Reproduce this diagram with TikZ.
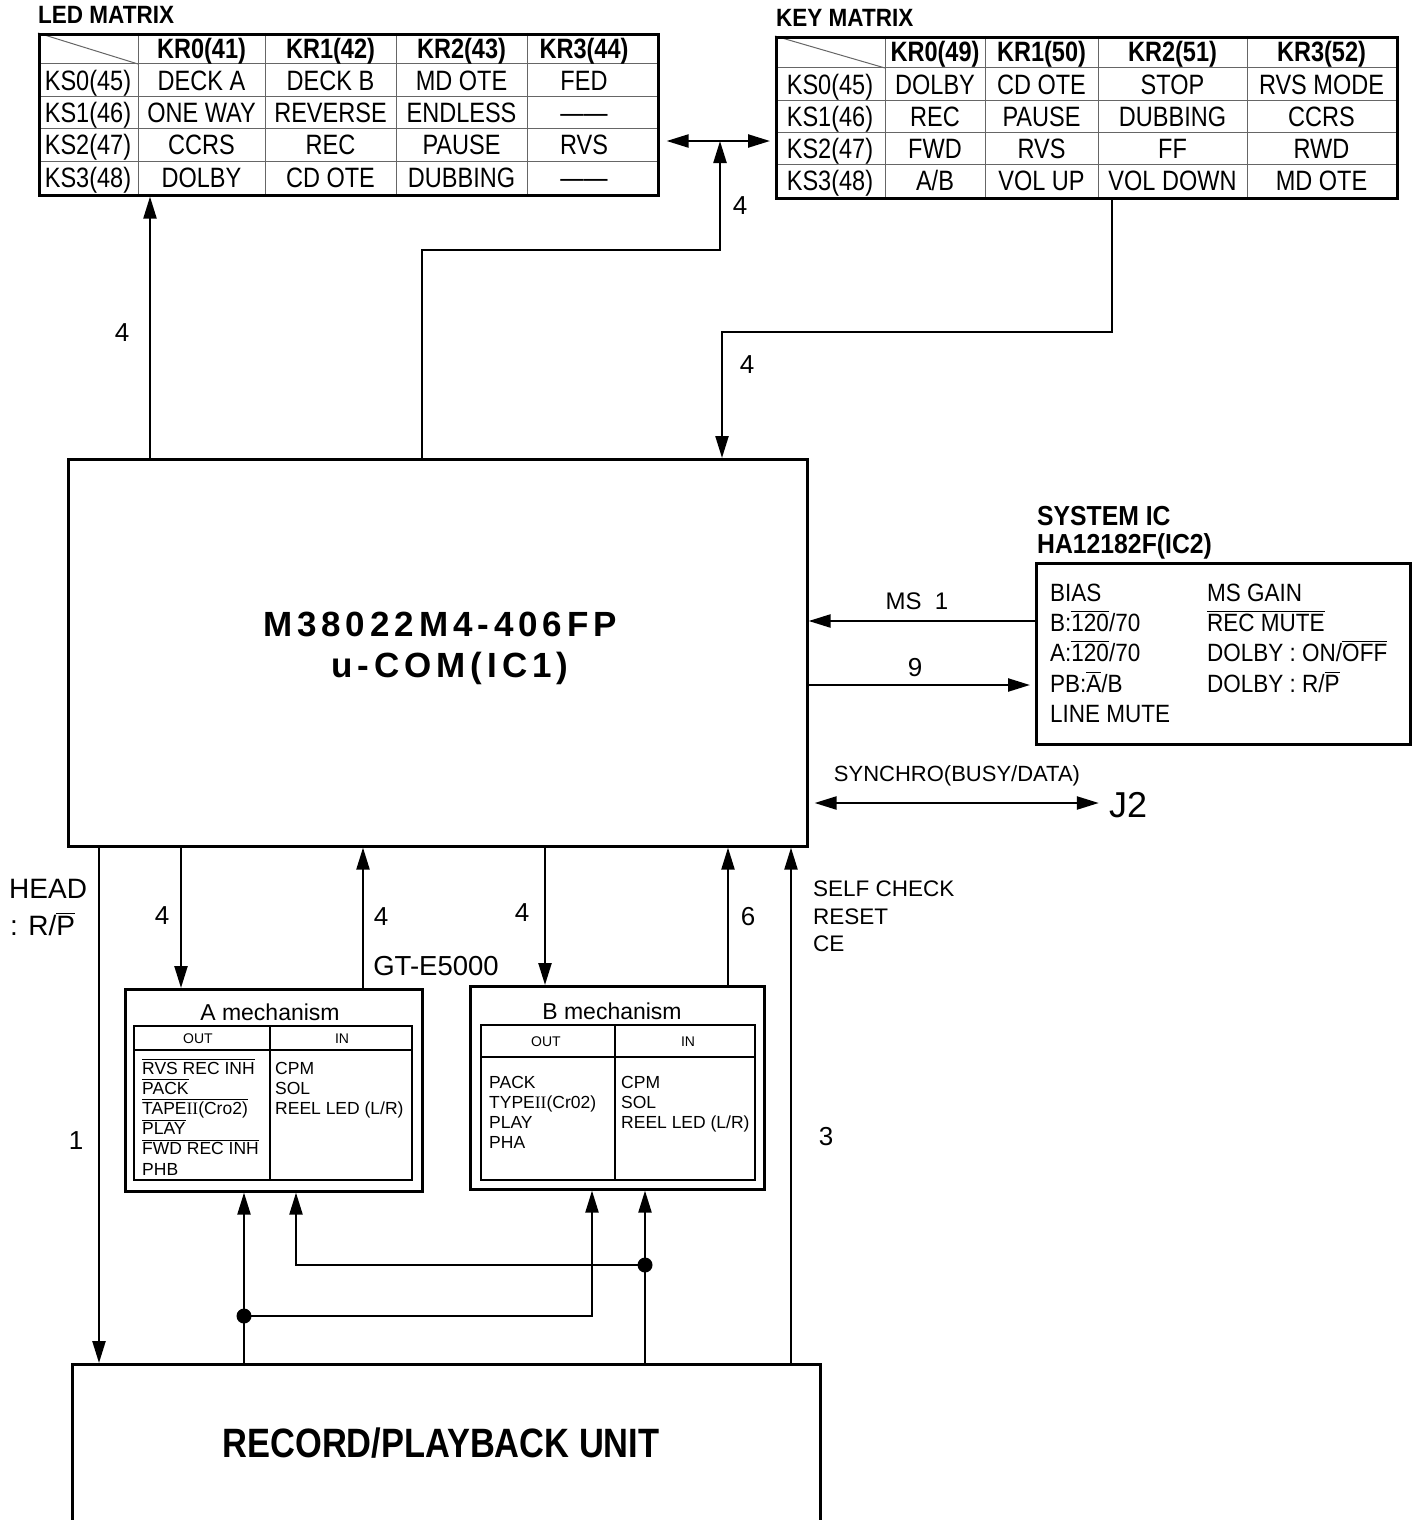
\documentclass[tikz,border=0pt]{standalone}
\usepackage{fontspec}
\setmainfont{Liberation Sans}
\newfontfamily\condf{Liberation Sans}[FakeStretch=0.84]
\newfontfamily\semif{Liberation Sans}[FakeStretch=0.9]
\newfontfamily\widef{Liberation Sans}[LetterSpace=14]
\newfontfamily\romf{Liberation Serif}
\usetikzlibrary{arrows.meta}
\newcommand\fsz[2]{\fontsize{#1}{#2}\selectfont}
\newcommand\ovl[1]{\vbox{\hrule height 1.1pt\kern 1.8pt\hbox{#1}}}
\tikzset{
 thickbox/.style={draw, line width=2.6pt, inner sep=0pt, anchor=north west},
 wire/.style={line width=2.3pt},
 arr/.style={wire, -{Triangle[length=22pt,width=13pt]}},
 darr/.style={wire, {Triangle[length=22pt,width=13pt]}-{Triangle[length=22pt,width=13pt]}},
 gline/.style={line width=1pt, draw=black!60},
 tcell/.style={inner sep=0pt, font=\condf\fsz{28}{32}, text height=20pt, text depth=0pt},
 thead/.style={tcell, font=\condf\bfseries\fsz{28}{32}},
 num/.style={inner sep=0pt, font=\fsz{26}{30}},
 lab/.style={inner sep=0pt, anchor=base west},
 mtext/.style={lab, font=\fsz{17.5}{20}},
 stext/.style={lab, font=\semif\fsz{25}{30}},
 dot/.style={circle, fill, inner sep=0pt, minimum size=15pt},
}
\newcommand\ledrow[6]{%
 \node[tcell] (l#1a) at (88,#2) {#3};
 \node[tcell] (l#1b) at (201.5,#2) {#4};
 \node[tcell] (l#1c) at (330.5,#2) {#5};
 \node[tcell] (l#1d) at (461.5,#2) {#6};}
\newcommand\keyrow[6]{%
 \node[tcell] (k#1a) at (830,#2) {#3};
 \node[tcell] (k#1b) at (935,#2) {#4};
 \node[tcell] (k#1c) at (1041.5,#2) {#5};
 \node[tcell] (k#1d) at (1172.5,#2) {#6};}
\begin{document}
\begin{tikzpicture}[x=1pt,y=-1pt]
\path[use as bounding box] (0,0) rectangle (1420,1520);
\fill[white] (0,0) rectangle (1420,1520);
% ---------------- LED MATRIX
\node[lab, font=\semif\bfseries\fsz{25}{30}] (ledt) at (38,24) {LED MATRIX};
\foreach \x in {138,265,396,527} \draw[gline] (\x,33) -- (\x,194);
\foreach \y in {64,96,128,161} \draw[gline] (38,\y) -- (657,\y);
\draw[gline] (38,33) -- (138,64);
\node[thickbox, minimum width=619pt, minimum height=161pt] (led) at (38,33) {};
\node[thead] (lh1) at (201.5,48.5) {KR0(41)};
\node[thead] (lh2) at (330.5,48.5) {KR1(42)};
\node[thead] (lh3) at (461.5,48.5) {KR2(43)};
\node[thead] (lh4) at (584,48.5) {KR3(44)};
\ledrow{1}{80}{KS0(45)}{DECK A}{DECK B}{MD OTE}
\node[tcell] (l1e) at (584,80) {FED};
\ledrow{2}{112}{KS1(46)}{ONE WAY}{REVERSE}{ENDLESS}
\node[tcell] (l2e) at (584,112) {——};
\ledrow{3}{144.5}{KS2(47)}{CCRS}{REC}{PAUSE}
\node[tcell] (l3e) at (584,144.5) {RVS};
\ledrow{4}{177.5}{KS3(48)}{DOLBY}{CD OTE}{DUBBING}
\node[tcell] (l4e) at (584,177.5) {——};
% ---------------- KEY MATRIX
\node[lab, font=\semif\bfseries\fsz{25}{30}] (keyt) at (776,27) {KEY MATRIX};
\foreach \x in {885,985,1098,1247} \draw[gline] (\x,36) -- (\x,197);
\foreach \y in {68,100,132,164} \draw[gline] (775,\y) -- (1396,\y);
\draw[gline] (775,36) -- (885,68);
\node[thickbox, minimum width=621pt, minimum height=161pt] (key) at (775,36) {};
\node[thead] (kh1) at (935,52) {KR0(49)};
\node[thead] (kh2) at (1041.5,52) {KR1(50)};
\node[thead] (kh3) at (1172.5,52) {KR2(51)};
\node[thead] (kh4) at (1321.5,52) {KR3(52)};
\keyrow{1}{84}{KS0(45)}{DOLBY}{CD OTE}{STOP}
\node[tcell] (k1e) at (1321.5,84) {RVS MODE};
\keyrow{2}{116}{KS1(46)}{REC}{PAUSE}{DUBBING}
\node[tcell] (k2e) at (1321.5,116) {CCRS};
\keyrow{3}{148}{KS2(47)}{FWD}{RVS}{FF}
\node[tcell] (k3e) at (1321.5,148) {RWD};
\keyrow{4}{180.5}{KS3(48)}{A/B}{VOL UP}{VOL DOWN}
\node[tcell] (k4e) at (1321.5,180.5) {MD OTE};
% ---------------- u-COM
\node[thickbox, minimum width=739pt, minimum height=387pt] (ucom) at (67,458) {};
\node[inner sep=0pt, font=\widef\bfseries\fsz{35}{40}] (ucom1) at (440,624) {M38022M4-406FP};
\node[inner sep=0pt, font=\widef\bfseries\fsz{35}{40}] (ucom2) at (450,668) {u-COM(IC1)};
% ---------------- SYSTEM IC
\node[lab, font=\semif\bfseries\fsz{27.5}{32}] (syst1) at (1037,525) {SYSTEM IC};
\node[lab, font=\semif\bfseries\fsz{27.5}{32}] (syst2) at (1037,553) {HA12182F(IC2)};
\node[thickbox, minimum width=374pt, minimum height=181pt] (sys) at (1035,562) {};
\node[stext] (s1) at (1050,601) {BIAS};
\node[stext] (s2) at (1050,631) {B:\ovl{120}/70};
\node[stext] (s3) at (1050,661) {A:\ovl{120}/70};
\node[stext] (s4) at (1050,692) {PB:\ovl{A}/B};
\node[stext] (s5) at (1050,722) {LINE MUTE};
\node[stext] (s6) at (1207,601) {MS GAIN};
\node[stext] (s7) at (1207,631) {\ovl{REC MUTE}};
\node[stext] (s8) at (1207,661) {DOLBY : ON/\ovl{OFF}};
\node[stext] (s9) at (1207,692) {DOLBY : R/\ovl{P}};
% ---------------- mechanisms
\node[thickbox, minimum width=297pt, minimum height=202pt] (amech) at (124,988) {};
\draw[line width=1.4pt] (134,1026) rectangle (412,1180);
\draw[line width=1.2pt] (270,1026) -- (270,1180) (134,1050) -- (412,1050);
\node[inner sep=0pt, font=\fsz{23}{26}] (amt) at (270,1012) {A mechanism};
\node[inner sep=0pt, font=\fsz{14}{16}] (aout) at (198,1039) {OUT};
\node[inner sep=0pt, font=\fsz{14}{16}] (ain) at (342,1039) {IN};
\foreach \t [count=\i from 0] in {{\ovl{RVS REC INH}},{\ovl{PACK}},{\ovl{TAPE{\romf II}(Cro2)}},{\ovl{PLAY}},{\ovl{FWD REC INH}},{PHB}}
  \node[mtext] (ao\i) at (142,{1074+20.2*\i}) {\t};
\foreach \t [count=\i from 0] in {CPM,SOL,{REEL LED (L/R)}}
  \node[mtext] (ai\i) at (275,{1074+20.2*\i}) {\t};

\node[thickbox, minimum width=294pt, minimum height=203pt] (bmech) at (469,985) {};
\draw[line width=1.4pt] (481,1025) rectangle (755,1180);
\draw[line width=1.2pt] (615,1025) -- (615,1180) (481,1057) -- (755,1057);
\node[inner sep=0pt, font=\fsz{23}{26}] (bmt) at (612,1011) {B mechanism};
\node[inner sep=0pt, font=\fsz{14}{16}] (bout) at (546,1042) {OUT};
\node[inner sep=0pt, font=\fsz{14}{16}] (bin) at (688,1042) {IN};
\foreach \t [count=\i from 0] in {PACK,{TYPE{\romf II}(Cr02)},PLAY,PHA}
  \node[mtext] (bo\i) at (489,{1088+20.2*\i}) {\t};
\foreach \t [count=\i from 0] in {CPM,SOL,{REEL LED (L/R)}}
  \node[mtext] (bi\i) at (621,{1088+20.2*\i}) {\t};
% ---------------- record/playback unit
\node[thickbox, minimum width=748pt, minimum height=200pt] (rp) at (71,1363) {};
\node[inner sep=0pt, font=\condf\bfseries\fsz{41}{46}] (rpt) at (441,1443) {RECORD/PLAYBACK UNIT};
% ---------------- helper coordinates
\foreach \x in {99,150,181,244,296,363,422,545,592,645,722,728,791,1112}
  \coordinate (x\x) at (\x,0);
\coordinate (yMS) at (0,621);
\coordinate (yNine) at (0,685);
\coordinate (ySy) at (0,803);
\coordinate (jn) at (720,141);
\coordinate (bend1) at (720,250);
\coordinate (bend2) at (722,332);
\coordinate (d1) at (244,1316);
\coordinate (d2) at (645,1265);
% ---------------- top connectors
\draw[arr] (ucom.north -| x150) -- (led.south -| x150);
\draw[arr] (ucom.north -| x422) |- (bend1) -- (jn);
\draw[darr, shorten <=7pt, shorten >=5pt] (led.east |- jn) -- (key.west |- jn);
\draw[arr] (key.south -| x1112) |- (bend2) -- (ucom.north -| x722);
\node[num] (n1) at (740,206) {4};
\node[num] (n2) at (122,333) {4};
\node[num] (n3) at (747,365) {4};
% ---------------- right connectors
\draw[arr] (sys.west |- yMS) -- (ucom.east |- yMS);
\draw[arr, shorten >=5pt] (ucom.east |- yNine) -- (sys.west |- yNine);
\node[inner sep=0pt, font=\fsz{24}{28}] (lms) at (917,601) {MS\hspace{0.55em}1};
\node[num] (l9) at (915,668) {9};
\node[inner sep=0pt, font=\fsz{22}{26}] (sync) at (957,776) {SYNCHRO(BUSY/DATA)};
\node[inner sep=0pt, font=\fsz{36}{40}] (j2) at (1128,805) {J2};
\draw[darr, shorten <=6pt, shorten >=10pt] (ucom.east |- ySy) -- (j2.west |- ySy);
% ---------------- lower connectors
\draw[arr] (ucom.south -| x99) -- (rp.north -| x99);
\draw[arr] (ucom.south -| x181) -- (amech.north -| x181);
\draw[arr] (amech.north -| x363) -- (ucom.south -| x363);
\draw[arr] (ucom.south -| x545) -- (bmech.north -| x545);
\draw[arr] (bmech.north -| x728) -- (ucom.south -| x728);
\draw[arr] (rp.north -| x791) -- (ucom.south -| x791);
\draw[arr] (rp.north -| x244) -- (amech.south -| x244);
\draw[arr] (rp.north -| x645) -- (bmech.south -| x645);
\draw[arr] (d1) -| (bmech.south -| x592);
\draw[arr] (d2) -| (amech.south -| x296);
\node[dot] (dot1) at (d1) {};
\node[dot] (dot2) at (d2) {};
\node[num] (n4) at (162,916) {4};
\node[num] (n5) at (381,917) {4};
\node[num] (n6) at (522,913) {4};
\node[num] (n7) at (748,917) {6};
\node[num] (n8) at (76,1141) {1};
\node[num] (n9) at (826,1137) {3};
\node[inner sep=0pt, font=\fsz{27.5}{32}] (gt) at (436,966) {GT-E5000};
\node[lab, font=\fsz{28}{32}] (head1) at (9,898) {HEAD};
\node[lab, font=\fsz{28}{32}] (head2) at (10,935) {: R/\ovl{P}};
\node[lab, font=\fsz{22.5}{26}] (sc1) at (813,896) {SELF CHECK};
\node[lab, font=\fsz{22.5}{26}] (sc2) at (813,924) {RESET};
\node[lab, font=\fsz{22.5}{26}] (sc3) at (813,951) {CE};
\end{tikzpicture}
\end{document}
